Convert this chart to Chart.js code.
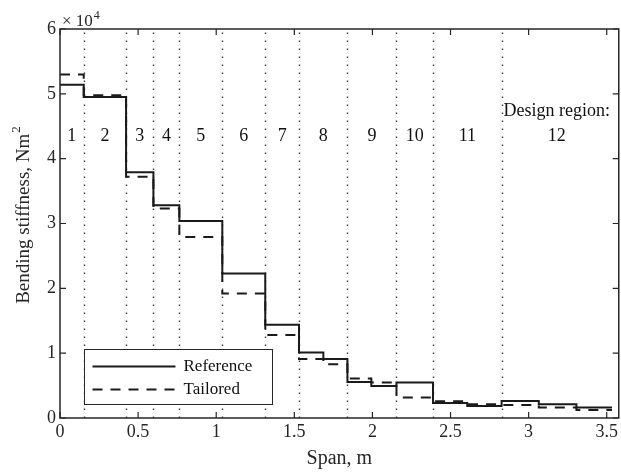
<!DOCTYPE html>
<html>
<head>
<meta charset="utf-8">
<script src="https://cdn.jsdelivr.net/npm/chart.js@4.4.0/dist/chart.umd.min.js"></script>
<style>
html, body { margin: 0; padding: 0; background: #fff; }
#wrap { width: 621px; height: 475px; }
</style>
</head>
<body>
<div id="wrap"><canvas id="stiffnessChart" width="621" height="475"></canvas></div>
<script>
// span positions (m) where the stiffness steps change, last one is the tip
var stepEdges = [0, 0.152, 0.423, 0.598, 0.764, 1.039, 1.314, 1.530, 1.686, 1.840, 1.993, 2.154, 2.388, 2.607, 2.827, 3.065, 3.306, 3.534];
// bending stiffness per segment, Nm^2
var referenceStiffness = [51400, 49500, 37900, 32800, 30400, 22300, 14400, 10100, 9100, 5560, 4940, 5460, 2320, 1850, 2620, 2110, 1610];
var tailoredStiffness = [53000, 49800, 37200, 32300, 27900, 19200, 12800, 9100, 8300, 6080, 5460, 3150, 2580, 2110, 2000, 1610, 1230];

// design regions
var regionBounds = [0, 0.152, 0.423, 0.598, 0.764, 1.039, 1.314, 1.530, 1.840, 2.154, 2.388, 2.827, 3.534];
var regionLabels = ['1', '2', '3', '4', '5', '6', '7', '8', '9', '10', '11', '12'];

var xTickValues = [0, 0.5, 1, 1.5, 2, 2.5, 3, 3.5];
var yTickValues = [0, 10000, 20000, 30000, 40000, 50000, 60000];

var serif = "'Liberation Serif', 'Times New Roman', serif";
var ink = '#262626';

// point i starts segment i; the tip point repeats the last value
function toSteps(values) {
    return stepEdges.map(function (x, i) {
        return { x: x, y: values[Math.min(i, values.length - 1)] };
    });
}

var matlabAxes = {
    id: 'matlabAxes',
    beforeDatasetsDraw: function (chart) {
        var ctx = chart.ctx, area = chart.chartArea, xs = chart.scales.x;
        ctx.save();
        ctx.strokeStyle = '#3c3c3c';
        ctx.lineWidth = 1.4;
        ctx.setLineDash([1.4, 6.6]);
        regionBounds.slice(1, -1).forEach(function (b) {
            var px = Math.round(xs.getPixelForValue(b)) + 0.5;
            ctx.beginPath();
            ctx.moveTo(px, area.bottom);
            ctx.lineTo(px, area.top);
            ctx.stroke();
        });
        ctx.restore();
    },
    afterDatasetsDraw: function (chart) {
        var ctx = chart.ctx, area = chart.chartArea, xs = chart.scales.x, ys = chart.scales.y;
        ctx.save();
        ctx.strokeStyle = ink;
        ctx.lineWidth = 1.5;
        // box
        ctx.strokeRect(area.left, area.top, area.right - area.left, area.bottom - area.top);
        // inward ticks on all four sides
        ctx.lineWidth = 1.2;
        xTickValues.forEach(function (v) {
            var px = xs.getPixelForValue(v);
            ctx.beginPath();
            ctx.moveTo(px, area.bottom); ctx.lineTo(px, area.bottom - 6);
            ctx.moveTo(px, area.top); ctx.lineTo(px, area.top + 6);
            ctx.stroke();
        });
        yTickValues.forEach(function (v) {
            var py = ys.getPixelForValue(v);
            ctx.beginPath();
            ctx.moveTo(area.left, py); ctx.lineTo(area.left + 6, py);
            ctx.moveTo(area.right, py); ctx.lineTo(area.right - 6, py);
            ctx.stroke();
        });

        // region numbers
        ctx.fillStyle = '#111';
        ctx.font = '18px ' + serif;
        ctx.textAlign = 'center';
        ctx.textBaseline = 'middle';
        regionLabels.forEach(function (lab, i) {
            var mid = (regionBounds[i] + regionBounds[i + 1]) / 2;
            ctx.fillText(lab, xs.getPixelForValue(mid), area.top + 107);
        });
        var lastMid = (regionBounds[regionBounds.length - 2] + regionBounds[regionBounds.length - 1]) / 2;
        ctx.fillText('Design region:', xs.getPixelForValue(lastMid), area.top + 82);
        ctx.restore();
    },
    afterDraw: function (chart) {
        var ctx = chart.ctx, area = chart.chartArea;
        ctx.save();
        ctx.fillStyle = ink;

        // x10^4 multiplier
        ctx.textAlign = 'left';
        ctx.textBaseline = 'alphabetic';
        ctx.font = '17px ' + serif;
        ctx.fillText('\u00d7 10', area.left + 2, area.top - 3);
        var w = ctx.measureText('\u00d7 10').width;
        ctx.font = '12px ' + serif;
        ctx.fillText('4', area.left + 3 + w, area.top - 10);

        // y axis title with superscript
        var main = 'Bending stiffness, Nm';
        ctx.font = '19px ' + serif;
        var wMain = ctx.measureText(main).width;
        ctx.font = '13px ' + serif;
        var wSup = ctx.measureText('2').width;
        var total = wMain + wSup;
        var cy = (area.top + area.bottom) / 2 - 8;
        ctx.translate(29, cy);
        ctx.rotate(-Math.PI / 2);
        ctx.font = '19px ' + serif;
        ctx.fillText(main, -total / 2, 0);
        ctx.font = '13px ' + serif;
        ctx.fillText('2', -total / 2 + wMain + 1, -9);
        ctx.restore();

        // legend box
        ctx.save();
        var bx = 84.5, by = 349.5, bw = 188, bh = 55;
        ctx.fillStyle = '#fff';
        ctx.fillRect(bx, by, bw, bh);
        ctx.strokeStyle = ink;
        ctx.lineWidth = 1;
        ctx.strokeRect(bx, by, bw, bh);
        chart.data.datasets.forEach(function (ds, i) {
            var ly = by + 17 + i * 23;
            ctx.strokeStyle = ds.borderColor;
            ctx.lineWidth = ds.borderWidth;
            ctx.setLineDash(ds.borderDash || []);
            ctx.beginPath();
            ctx.moveTo(bx + 8, ly);
            ctx.lineTo(bx + 91, ly);
            ctx.stroke();
            ctx.setLineDash([]);
            ctx.fillStyle = '#111';
            ctx.font = '17px ' + serif;
            ctx.textAlign = 'left';
            ctx.textBaseline = 'middle';
            ctx.fillText(ds.label, bx + 99, ly);
        });
        ctx.restore();
    }
};

var stiffnessChart = new Chart(document.getElementById('stiffnessChart').getContext('2d'), {
    type: 'line',
    data: {
        datasets: [{
            label: 'Reference',
            data: toSteps(referenceStiffness),
            stepped: 'before',
            borderColor: '#1a1a1a',
            borderWidth: 2,
            pointRadius: 0,
            fill: false
        }, {
            label: 'Tailored',
            data: toSteps(tailoredStiffness),
            stepped: 'before',
            borderColor: '#1a1a1a',
            borderWidth: 2,
            borderDash: [10, 8],
            pointRadius: 0,
            fill: false
        }]
    },
    options: {
        responsive: false,
        animation: false,
        layout: { padding: { top: 29, right: 1, left: 0, bottom: 0 } },
        plugins: {
            legend: { display: false },
            tooltip: { enabled: false }
        },
        scales: {
            x: {
                type: 'linear',
                min: 0,
                max: 3.577,
                afterBuildTicks: function (scale) {
                    scale.ticks = xTickValues.map(function (v) { return { value: v }; });
                },
                afterFit: function (scale) { scale.height = 57; },
                ticks: {
                    autoSkip: false,
                    maxRotation: 0,
                    padding: 3,
                    color: ink,
                    font: { family: serif, size: 18 },
                    callback: function (v) { return String(v); }
                },
                grid: { display: true, drawOnChartArea: false, drawTicks: false },
                border: { display: false },
                title: {
                    display: true,
                    text: 'Span, m',
                    color: ink,
                    font: { family: serif, size: 20 },
                    padding: { top: 0, bottom: 4 }
                }
            },
            y: {
                type: 'linear',
                min: 0,
                max: 60000,
                afterBuildTicks: function (scale) {
                    scale.ticks = yTickValues.map(function (v) { return { value: v }; });
                },
                afterFit: function (scale) { scale.width = 60; },
                ticks: {
                    padding: 4,
                    color: ink,
                    font: { family: serif, size: 18 },
                    callback: function (v) { return String(v / 10000); }
                },
                grid: { display: true, drawOnChartArea: false, drawTicks: false },
                border: { display: false }
            }
        }
    },
    plugins: [matlabAxes]
});
</script>
</body>
</html>
